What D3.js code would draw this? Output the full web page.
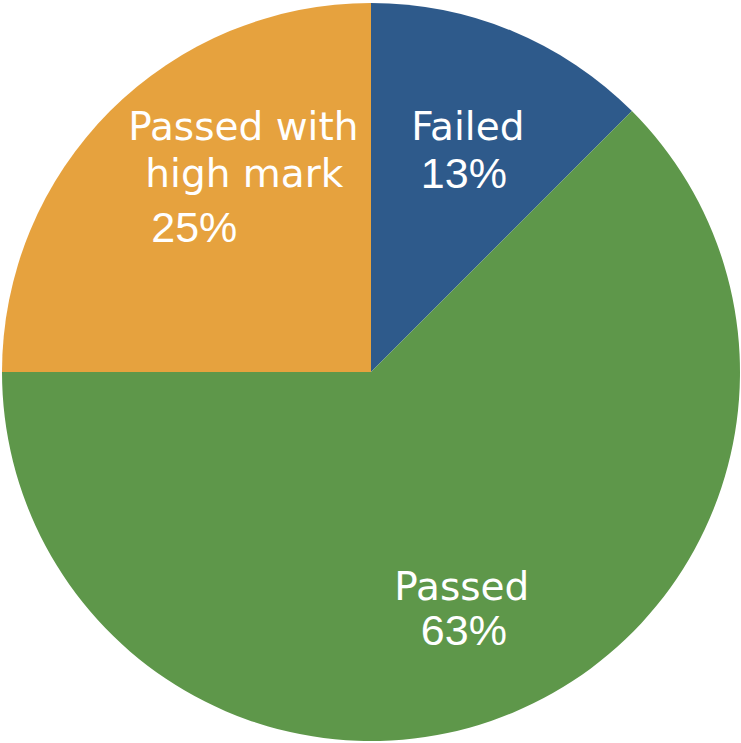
<!DOCTYPE html>
<html>
<head>
<meta charset="utf-8">
<script src="https://cdn.jsdelivr.net/npm/d3@7"></script>
<style>
  html, body { margin: 0; padding: 0; background: #ffffff; }
  svg { display: block; }
</style>
</head>
<body>
<svg id="chart" width="741" height="743"></svg>
<script>
// ---- data ----
const categories = ["Failed", "Passed", "Passed with high mark"];
const values = [1, 5, 2];
const colors = ["#2E5A8B", "#5E974A", "#E6A23E"];
const nameLines = [["Failed"], ["Passed"], ["Passed with", "high mark"]];

// ---- layout ----
const width = 741, height = 743;
const cx = 371, cy = 372, radius = 369;
const labelRadius = 240;

const svg = d3.select("#chart");
const g = svg.append("g").attr("transform", `translate(${cx},${cy})`);

const total = d3.sum(values);
const pie = d3.pie().sort(null).value(d => d.value);
const arcs = pie(categories.map((c, i) => ({ name: c, value: values[i], idx: i })));

const arc = d3.arc().innerRadius(0).outerRadius(radius);
const labelArc = d3.arc().innerRadius(labelRadius).outerRadius(labelRadius);

g.selectAll("path.slice")
  .data(arcs)
  .join("path")
  .attr("class", "slice")
  .attr("d", arc)
  .attr("fill", d => colors[d.data.idx]);

// per-slice line offsets relative to the label centroid (text layout tweaks)
const lineOffsets = [
  { names: [[5, -10]], pct: [1, 38] },
  { names: [[-1, 6]], pct: [1, 51] },
  { names: [[42, -62], [43, -15]], pct: [-7, 40] }
];

const labels = g.selectAll("g.label")
  .data(arcs)
  .join("g")
  .attr("class", "label")
  .attr("transform", d => {
    const [x, y] = labelArc.centroid(d);
    return `translate(${x},${y})`;
  });

labels.each(function(d) {
  const sel = d3.select(this);
  const off = lineOffsets[d.data.idx];
  nameLines[d.data.idx].forEach((line, j) => {
    sel.append("text")
      .attr("x", off.names[j][0])
      .attr("y", off.names[j][1])
      .attr("text-anchor", "middle")
      .attr("fill", "#ffffff")
      .style("font-family", "'DejaVu Sans', Verdana, sans-serif")
      .style("font-size", "39px")
      .text(line);
  });
  sel.append("text")
    .attr("x", off.pct[0])
    .attr("y", off.pct[1])
    .attr("text-anchor", "middle")
    .attr("fill", "#ffffff")
    .style("font-family", "'Liberation Sans', Arial, sans-serif")
    .style("font-size", "43px")
    .text(Math.round(d.data.value / total * 100) + "%");
});
</script>
</body>
</html>
